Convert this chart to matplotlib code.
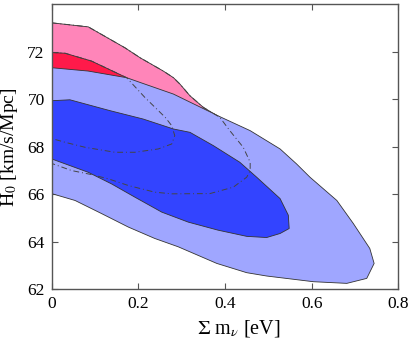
import matplotlib
matplotlib.use("Agg")
import matplotlib.pyplot as plt

# ---- data (digitised contours: sum m_nu [eV], H0 [km/s/Mpc]) ----
pink95_x = [0.0, 0.0845, 0.169, 0.204, 0.2575, 0.281, 0.296, 0.319, 0.350, 0.388, 0.411,
            0.442, 0.458, 0.458, 0.450, 0.419, 0.365, 0.277, 0.238, 0.177, 0.131, 0.092,
            0.046, 0.0]
pink95_y = [73.22, 73.05, 72.17, 71.75, 71.19, 70.91, 70.64, 70.15, 69.66, 69.24, 68.68,
            67.98, 67.35, 67.00, 66.72, 66.30, 66.03, 66.02, 66.09, 66.37, 66.65, 66.83,
            67.00, 67.30]

pink68_x = [0.0, 0.031, 0.092, 0.173, 0.215, 0.262, 0.277, 0.284, 0.277, 0.246, 0.192,
            0.146, 0.077, 0.031, 0.0]
pink68_y = [71.97, 71.94, 71.61, 70.91, 70.08, 69.24, 68.89, 68.47, 68.12, 67.91, 67.77,
            67.77, 67.98, 68.19, 68.35]

blue95_x = [0.0, 0.084, 0.173, 0.204, 0.281, 0.388, 0.458, 0.527, 0.565, 0.596, 0.658,
            0.696, 0.734, 0.744, 0.727, 0.681, 0.604, 0.496, 0.450, 0.381, 0.292, 0.238,
            0.177, 0.115, 0.054, 0.0]
blue95_y = [71.33, 71.19, 70.91, 70.71, 70.22, 69.27, 68.68, 67.91, 67.28, 66.72, 65.74,
            64.77, 63.72, 63.09, 62.46, 62.25, 62.32, 62.56, 62.70, 63.09, 63.79, 64.14,
            64.62, 65.19, 65.74, 66.03]

blue68_x = [0.0, 0.042, 0.135, 0.211, 0.281, 0.319, 0.373, 0.434, 0.473, 0.527, 0.546,
            0.548, 0.527, 0.496, 0.450, 0.384, 0.315, 0.254, 0.192, 0.138, 0.084, 0.0]
blue68_y = [69.94, 69.98, 69.52, 69.17, 68.75, 68.61, 68.05, 67.35, 66.72, 65.82, 65.12,
            64.56, 64.35, 64.18, 64.23, 64.49, 64.83, 65.25, 65.88, 66.44, 66.93, 67.49]

xticks = [0, 0.2, 0.4, 0.6, 0.8]
xticklabels = ["0", "0.2", "0.4", "0.6", "0.8"]
yticks = [62, 64, 66, 68, 70, 72]
yticklabels = ["62", "64", "66", "68", "70", "72"]

plt.rcParams["font.family"] = ["Liberation Serif", "DejaVu Serif"]
plt.rcParams["mathtext.fontset"] = "stix"

fig = plt.figure(figsize=(4.15, 3.5), dpi=100)
ax = fig.add_axes([0.1245, 0.1734, 0.8355, 0.8143])

edge = "#333333"
ax.fill(pink95_x, pink95_y, facecolor="#ff85b9", edgecolor=edge, lw=0.6, zorder=1)
ax.fill(pink68_x, pink68_y, facecolor="#ff1a4a", edgecolor=edge, lw=0.6, zorder=2)
ax.fill(blue95_x, blue95_y, facecolor="#9fa6ff", edgecolor=edge, lw=0.6, zorder=3)
ax.fill(blue68_x, blue68_y, facecolor="#3344ff", edgecolor=edge, lw=0.6, zorder=4)
ax.plot(pink95_x, pink95_y, color="#444444", lw=0.7, ls=(0, (6, 3, 1, 3)), zorder=5)
ax.plot(pink68_x, pink68_y, color="#444444", lw=0.7, ls=(0, (6, 3, 1, 3)), zorder=5)

ax.set_xlim(0, 0.8)
ax.set_ylim(62, 74)
ax.set_xticks(xticks)
ax.set_xticklabels(xticklabels)
ax.set_yticks(yticks)
ax.set_yticklabels(yticklabels)
ax.tick_params(direction="in", top=True, right=True, length=4, width=0.8,
               color="#555555", labelsize=12.5, pad=5)
for s in ax.spines.values():
    s.set_color("#555555")
    s.set_linewidth(1.0)
    s.set_zorder(10)

ax.set_xlabel(r"$\Sigma$ m$_\nu$ [eV]", fontsize=14.5)
ax.set_ylabel(r"H$_0$ [km/s/Mpc]", fontsize=14)
ax.xaxis.set_label_coords(0.54, -0.1)
ax.yaxis.set_label_coords(-0.092, 0.5)

fig.savefig("out.png", dpi=100)
